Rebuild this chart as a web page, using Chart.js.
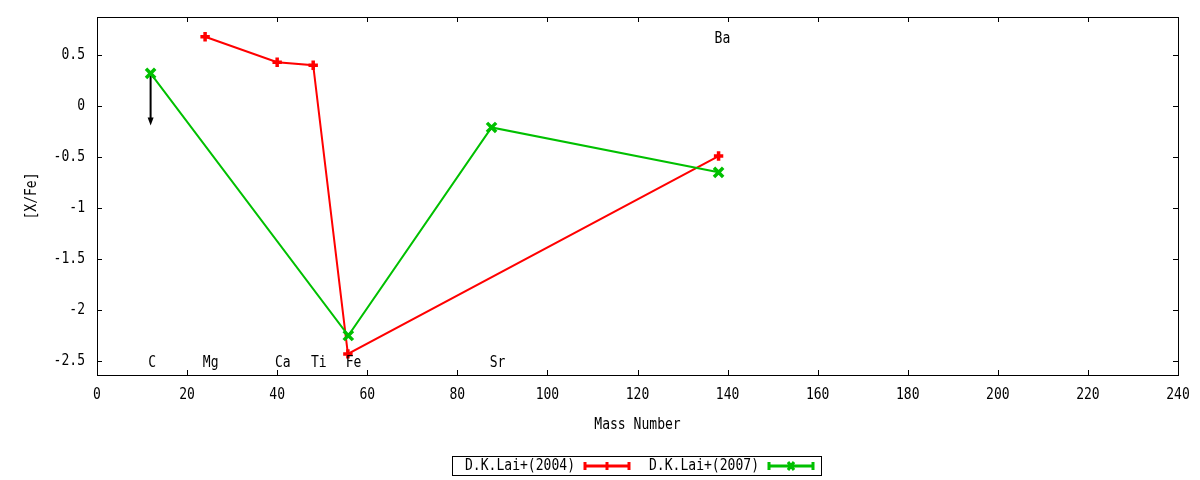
<!DOCTYPE html>
<html>
<head>
<meta charset="utf-8">
<script src="https://cdn.jsdelivr.net/npm/chart.js@4.4.1/dist/chart.umd.min.js"></script>
<style>
    html, body { margin: 0; padding: 0; background: #fff; }
    #wrap { width: 1200px; height: 480px; position: relative; }
</style>
</head>
<body>
<div id="wrap"><canvas id="abundChart"></canvas></div>
<script>
// Lai et al. 2004 abundances
const lai2004Mass = [24, 40, 48, 55.7, 138];
const lai2004Val = [0.68, 0.43, 0.40, -2.43, -0.49];

// Lai et al. 2007 abundances
const lai2007Mass = [11.9, 55.8, 87.6, 138];
const lai2007Val = [0.32, -2.25, -0.21, -0.65];

// upper limit arrow for C (2007)
const limitMass = 11.9;
const limitFrom = 0.32;
const limitTo = -0.19;

// element labels (left-justified at these positions)
const elemNames = ['C', 'Mg', 'Ca', 'Ti', 'Fe', 'Sr', 'Ba'];
const elemX = [11.4, 23.5, 39.5, 47.5, 55.2, 87.2, 137.1];
const elemY = [-2.52, -2.52, -2.52, -2.52, -2.52, -2.52, 0.66];

const xTicks = [0, 20, 40, 60, 80, 100, 120, 140, 160, 180, 200, 220, 240];
const yTicks = [-2.5, -2, -1.5, -1, -0.5, 0, 0.5];

const legendNames = ['D.K.Lai+(2004)', 'D.K.Lai+(2007)'];

const RED = '#ff0000';
const GREEN = '#00c000';
const FONT = '15px "DejaVu Sans Mono", "Liberation Mono", monospace';
const SQUEEZE = 0.87; // gnuplot's font is narrower than DejaVu Sans Mono

function toPoints(xs, ys) {
    return xs.map(function(x, i) { return { x: x, y: ys[i] }; });
}

// draws narrow text like the gnuplot png terminal
function drawText(ctx, text, x, y, align) {
    ctx.save();
    ctx.font = FONT;
    ctx.fillStyle = '#000';
    ctx.textBaseline = 'middle';
    ctx.textAlign = align || 'left';
    ctx.translate(x, y);
    ctx.scale(SQUEEZE, 1);
    ctx.fillText(text, 0, 0);
    ctx.restore();
}

// gnuplot-like frame, inward ticks, labels, arrow and legend
const gnuFrame = {
    id: 'gnuFrame',
    beforeDatasetsDraw(chart) {
        const ctx = chart.ctx;
        const xs = chart.scales.x, ys = chart.scales.y;
        const px = xs.getPixelForValue(limitMass);
        const p0 = ys.getPixelForValue(limitFrom);
        const p1 = ys.getPixelForValue(limitTo);
        ctx.save();
        ctx.strokeStyle = '#000';
        ctx.fillStyle = '#000';
        ctx.lineWidth = 2;
        ctx.beginPath();
        ctx.moveTo(px, p0);
        ctx.lineTo(px, p1 - 6);
        ctx.stroke();
        ctx.beginPath();
        ctx.moveTo(px - 3, p1 - 8);
        ctx.lineTo(px + 3, p1 - 8);
        ctx.lineTo(px, p1);
        ctx.closePath();
        ctx.fill();
        ctx.restore();
    },
    afterDraw(chart) {
        const ctx = chart.ctx;
        const a = chart.chartArea;
        const xs = chart.scales.x, ys = chart.scales.y;
        const tl = 5;
        ctx.save();
        ctx.strokeStyle = '#000';
        ctx.lineWidth = 1;
        ctx.strokeRect(Math.round(a.left) + 0.5, Math.round(a.top) + 0.5,
            Math.round(a.right - a.left), Math.round(a.bottom - a.top));
        ctx.beginPath();
        xTicks.forEach(function(v) {
            const p = Math.round(xs.getPixelForValue(v)) + 0.5;
            ctx.moveTo(p, a.bottom); ctx.lineTo(p, a.bottom - tl);
            ctx.moveTo(p, a.top); ctx.lineTo(p, a.top + tl);
        });
        yTicks.forEach(function(v) {
            const p = Math.round(ys.getPixelForValue(v)) + 0.5;
            ctx.moveTo(a.left, p); ctx.lineTo(a.left + tl, p);
            ctx.moveTo(a.right, p); ctx.lineTo(a.right - tl, p);
        });
        ctx.stroke();

        // tick labels
        xTicks.forEach(function(v) {
            drawText(ctx, String(v), xs.getPixelForValue(v), a.bottom + 20, 'center');
        });
        yTicks.forEach(function(v) {
            drawText(ctx, String(v), a.left - 12, ys.getPixelForValue(v), 'right');
        });

        // element labels
        elemNames.forEach(function(n, i) {
            drawText(ctx, n, xs.getPixelForValue(elemX[i]), ys.getPixelForValue(elemY[i]), 'left');
        });

        // axis titles
        drawText(ctx, 'Mass Number', (a.left + a.right) / 2, 425, 'center');
        ctx.save();
        ctx.translate(32, (a.top + a.bottom) / 2);
        ctx.rotate(-Math.PI / 2);
        drawText(ctx, '[X/Fe]', 0, 0, 'center');
        ctx.restore();

        // legend
        ctx.strokeRect(452.5, 456.5, 369, 19);
        drawText(ctx, legendNames[0], 465, 466, 'left');
        drawText(ctx, legendNames[1], 649, 466, 'left');
        drawSample(ctx, 585, 629, 466, RED, 'plus');
        drawSample(ctx, 769, 813, 466, GREEN, 'x');
        ctx.restore();
    }
};

function drawSample(ctx, x0, x1, y, color, marker) {
    ctx.save();
    ctx.strokeStyle = color;
    ctx.lineWidth = 3;
    ctx.beginPath();
    ctx.moveTo(x0, y); ctx.lineTo(x1, y);
    ctx.moveTo(x0, y - 4); ctx.lineTo(x0, y + 4);
    ctx.moveTo(x1, y - 4); ctx.lineTo(x1, y + 4);
    const m = (x0 + x1) / 2;
    if (marker === 'plus') {
        ctx.moveTo(m, y - 4); ctx.lineTo(m, y + 4);
    } else {
        ctx.moveTo(m - 3, y - 4); ctx.lineTo(m + 3, y + 4);
        ctx.moveTo(m + 3, y - 4); ctx.lineTo(m - 3, y + 4);
    }
    ctx.stroke();
    ctx.restore();
}

const ctx = document.getElementById('abundChart').getContext('2d');
const abundChart = new Chart(ctx, {
    type: 'line',
    data: {
        datasets: [{
            label: legendNames[0],
            data: toPoints(lai2004Mass, lai2004Val),
            borderColor: RED,
            backgroundColor: RED,
            borderWidth: 2,
            pointStyle: 'cross',
            pointRadius: 4.7,
            pointBorderWidth: 3.5,
            tension: 0,
            order: 2
        }, {
            label: legendNames[1],
            data: toPoints(lai2007Mass, lai2007Val),
            borderColor: GREEN,
            backgroundColor: GREEN,
            borderWidth: 2,
            pointStyle: 'crossRot',
            pointRadius: 6.5,
            pointBorderWidth: 3.5,
            tension: 0,
            order: 1
        }]
    },
    options: {
        responsive: true,
        maintainAspectRatio: false,
        animation: false,
        layout: {
            padding: { left: 0, right: 22, top: 17, bottom: 0 }
        },
        plugins: {
            legend: { display: false },
            tooltip: { enabled: false }
        },
        scales: {
            x: {
                type: 'linear',
                min: 0,
                max: 240,
                afterFit: function(scale) { scale.height = 105; },
                grid: { display: false },
                border: { display: false },
                ticks: { display: false }
            },
            y: {
                type: 'linear',
                min: -2.637,
                max: 0.873,
                afterFit: function(scale) { scale.width = 97; },
                grid: { display: false },
                border: { display: false },
                ticks: { display: false }
            }
        }
    },
    plugins: [gnuFrame]
});
</script>
</body>
</html>
